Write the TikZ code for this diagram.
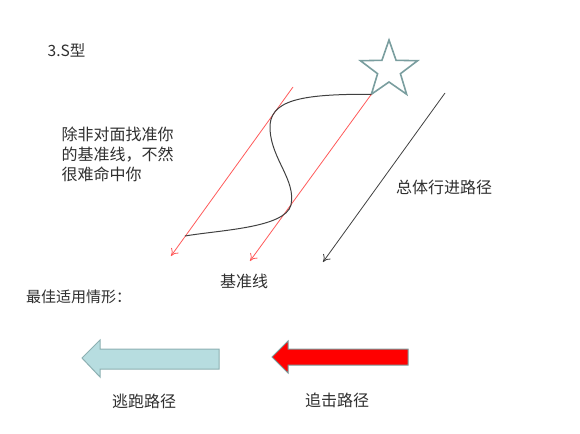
\documentclass[tikz,border=0pt]{standalone}
\usepackage{fontspec}
\setmainfont{Noto Sans CJK SC}
\usetikzlibrary{arrows.meta,shapes.geometric}
\definecolor{textgray}{HTML}{2E2E2E}
\definecolor{guidered}{HTML}{FF5A5A}
\definecolor{trendgray}{HTML}{404040}
\definecolor{starteal}{HTML}{7A9E9F}
\definecolor{escapefill}{HTML}{B7DDE0}
\definecolor{escapeedge}{HTML}{8DB0B2}
\definecolor{chaseedge}{HTML}{7A9A9A}

\begin{document}
\begin{tikzpicture}[x=1pt, y=-1pt,
    guide/.style={draw=guidered, line width=0.8pt, -{To[length=7pt,width=9pt]}},
    trend/.style={draw=trendgray, line width=0.8pt, -{To[length=7pt,width=9pt]}},
    spath/.style={draw=trendgray, line width=1pt},
    escape/.style={fill=escapefill, draw=escapeedge, line width=1pt},
    chase/.style={fill=red, draw=chaseedge, line width=1pt}]
      \useasboundingbox (0,0) rectangle (580,433);
      \begin{scope}[every node/.style={text=textgray, inner sep=0pt, font=\fontsize{16}{20}\selectfont}]
        \node (title) [font=\fontsize{15.5}{18}\selectfont] at (66.5,50) {3.S型};
        \node (hint) [align=left] at (117.5,154) {除非对面找准你\\的基准线，不然\\很难命中你};
        \node (trendlabel) at (444,187) {总体行进路径};
        \node (baselabel) at (244,281) {基准线};
        \node (best) [anchor=west, font=\fontsize{15}{18}\selectfont] at (26,297) {最佳适用情形：};
        \node (escapelabel) at (144,401) {逃跑路径};
        \node (chaselabel) at (337,400) {追击路径};
      \end{scope}
      \node (star) [star, star points=5, star point ratio=2.5, minimum size=60pt,
        inner sep=0pt, outer sep=0pt, draw=starteal, line width=1.6pt, fill=white] at (389,70) {};
      \coordinate (guidetop) at (293,87);
      \coordinate (guideend) at (171,256);
      \coordinate (baseend) at (250,261);
      \coordinate (trendtop) at (445,93);
      \coordinate (trendend) at (323,262);
      \coordinate (send) at (185,236);
      \path (guidetop) edge[guide] (guideend);
      \path (star.outer point 3) edge[guide] (baseend);
      \path (trendtop) edge[trend] (trendend);
      \draw[spath] (star.outer point 3) .. controls (300,94) and (268,100) .. (270,130)
        .. controls (272,160) and (296,180) .. (291,205)
        .. controls (285,228) and (220,230) .. (send);
      % block arrows
      \draw[escape] (82,358) -- (100,340) -- (100,349) -- (219,349) -- (219,369)
        -- (100,369) -- (100,377) -- cycle;
      \draw[chase] (272,357) -- (288,341) -- (288,349) -- (408,349) -- (408,365)
        -- (288,365) -- (288,373) -- cycle;
    \end{tikzpicture}
\end{document}
